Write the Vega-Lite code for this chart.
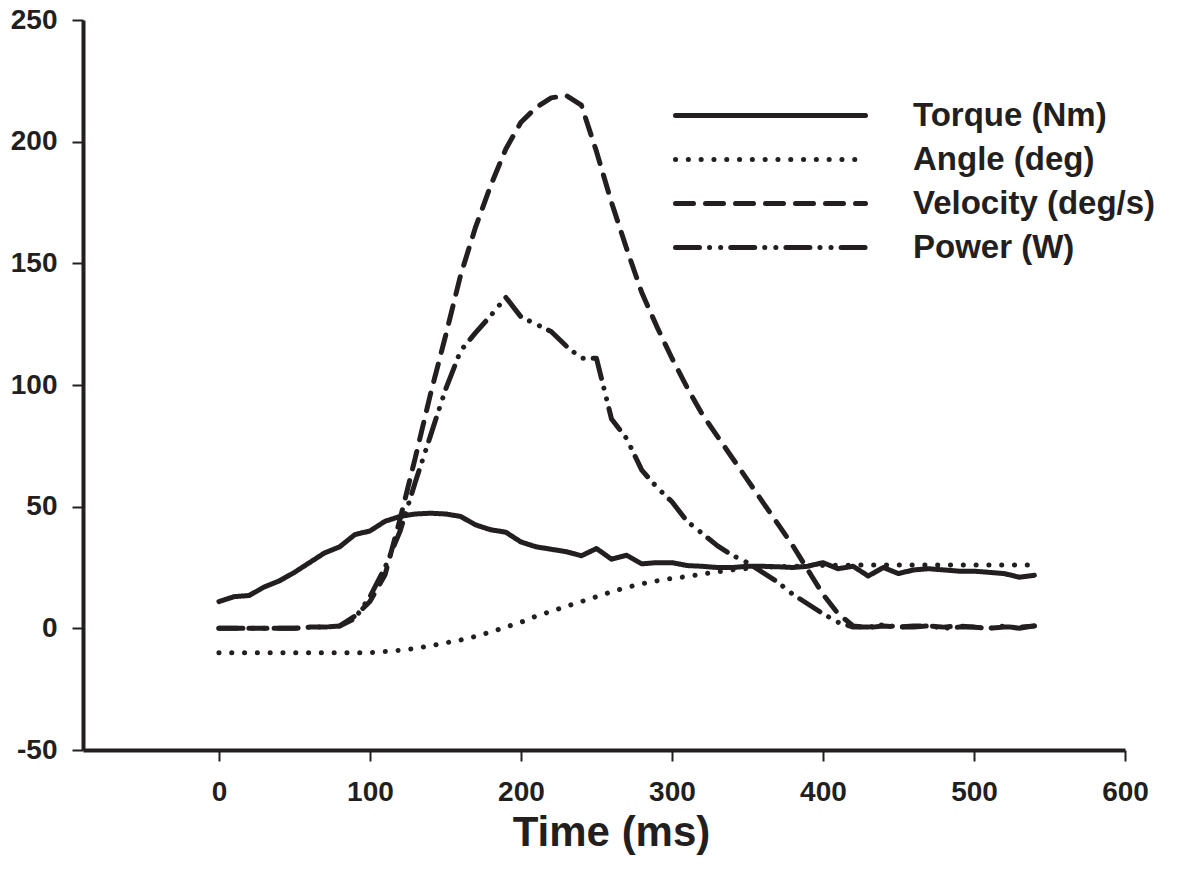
{
  "$schema": "https://vega.github.io/schema/vega-lite/v6.json",
  "width": 1042,
  "height": 730,
  "autosize": {"type": "none"},
  "padding": {"left": 83, "top": 20, "right": 56, "bottom": 134},
  "background": "white",
  "config": {"view": {"stroke": null}, "font": "Liberation Sans"},
  "data": {
    "values": [
      {"t": 0, "Torque (Nm)": 11, "Angle (deg)": -10, "Velocity (deg/s)": 0, "Power (W)": 0},
      {"t": 10, "Torque (Nm)": 13, "Angle (deg)": -10, "Velocity (deg/s)": 0, "Power (W)": 0},
      {"t": 20, "Torque (Nm)": 13.5, "Angle (deg)": -10, "Velocity (deg/s)": 0, "Power (W)": 0},
      {"t": 30, "Torque (Nm)": 17, "Angle (deg)": -10, "Velocity (deg/s)": 0, "Power (W)": 0},
      {"t": 40, "Torque (Nm)": 19.5, "Angle (deg)": -10, "Velocity (deg/s)": 0, "Power (W)": 0},
      {"t": 50, "Torque (Nm)": 23, "Angle (deg)": -10, "Velocity (deg/s)": 0, "Power (W)": 0},
      {"t": 60, "Torque (Nm)": 27, "Angle (deg)": -10, "Velocity (deg/s)": 0.5, "Power (W)": 0.5},
      {"t": 70, "Torque (Nm)": 31, "Angle (deg)": -10, "Velocity (deg/s)": 0.5, "Power (W)": 0.5},
      {"t": 80, "Torque (Nm)": 33.5, "Angle (deg)": -10, "Velocity (deg/s)": 1, "Power (W)": 1},
      {"t": 90, "Torque (Nm)": 38.5, "Angle (deg)": -10, "Velocity (deg/s)": 5, "Power (W)": 4},
      {"t": 100, "Torque (Nm)": 40, "Angle (deg)": -10, "Velocity (deg/s)": 11, "Power (W)": 13},
      {"t": 110, "Torque (Nm)": 44, "Angle (deg)": -9.5, "Velocity (deg/s)": 22, "Power (W)": 25},
      {"t": 120, "Torque (Nm)": 46, "Angle (deg)": -9, "Velocity (deg/s)": 45, "Power (W)": 40},
      {"t": 130, "Torque (Nm)": 47, "Angle (deg)": -8.3, "Velocity (deg/s)": 70, "Power (W)": 60},
      {"t": 140, "Torque (Nm)": 47.3, "Angle (deg)": -7.2, "Velocity (deg/s)": 96, "Power (W)": 79},
      {"t": 150, "Torque (Nm)": 47, "Angle (deg)": -6, "Velocity (deg/s)": 120, "Power (W)": 98},
      {"t": 160, "Torque (Nm)": 46, "Angle (deg)": -4.8, "Velocity (deg/s)": 145, "Power (W)": 114},
      {"t": 170, "Torque (Nm)": 42.5, "Angle (deg)": -3.3, "Velocity (deg/s)": 165, "Power (W)": 121.5},
      {"t": 180, "Torque (Nm)": 40.5, "Angle (deg)": -1.5, "Velocity (deg/s)": 182, "Power (W)": 128.5},
      {"t": 190, "Torque (Nm)": 39.5, "Angle (deg)": 0.5, "Velocity (deg/s)": 197, "Power (W)": 136},
      {"t": 200, "Torque (Nm)": 35.5, "Angle (deg)": 2.5, "Velocity (deg/s)": 208, "Power (W)": 128},
      {"t": 210, "Torque (Nm)": 33.5, "Angle (deg)": 5, "Velocity (deg/s)": 214, "Power (W)": 125},
      {"t": 220, "Torque (Nm)": 32.5, "Angle (deg)": 7, "Velocity (deg/s)": 218, "Power (W)": 122},
      {"t": 230, "Torque (Nm)": 31.5, "Angle (deg)": 9, "Velocity (deg/s)": 219, "Power (W)": 116},
      {"t": 240, "Torque (Nm)": 29.8, "Angle (deg)": 11, "Velocity (deg/s)": 215, "Power (W)": 111},
      {"t": 250, "Torque (Nm)": 32.8, "Angle (deg)": 13, "Velocity (deg/s)": 196, "Power (W)": 111},
      {"t": 260, "Torque (Nm)": 28.4, "Angle (deg)": 15, "Velocity (deg/s)": 175, "Power (W)": 86},
      {"t": 270, "Torque (Nm)": 30, "Angle (deg)": 16.8, "Velocity (deg/s)": 156, "Power (W)": 78},
      {"t": 280, "Torque (Nm)": 26.5, "Angle (deg)": 18.3, "Velocity (deg/s)": 138, "Power (W)": 65},
      {"t": 290, "Torque (Nm)": 27, "Angle (deg)": 19.5, "Velocity (deg/s)": 124, "Power (W)": 58},
      {"t": 300, "Torque (Nm)": 27, "Angle (deg)": 20.5, "Velocity (deg/s)": 111, "Power (W)": 52},
      {"t": 310, "Torque (Nm)": 25.8, "Angle (deg)": 21.3, "Velocity (deg/s)": 99, "Power (W)": 44},
      {"t": 320, "Torque (Nm)": 25.5, "Angle (deg)": 22.3, "Velocity (deg/s)": 88, "Power (W)": 39},
      {"t": 330, "Torque (Nm)": 25, "Angle (deg)": 23.2, "Velocity (deg/s)": 79, "Power (W)": 34},
      {"t": 340, "Torque (Nm)": 25, "Angle (deg)": 24, "Velocity (deg/s)": 70, "Power (W)": 30},
      {"t": 350, "Torque (Nm)": 25.5, "Angle (deg)": 24.6, "Velocity (deg/s)": 61, "Power (W)": 27},
      {"t": 360, "Torque (Nm)": 25.5, "Angle (deg)": 25, "Velocity (deg/s)": 52, "Power (W)": 23},
      {"t": 370, "Torque (Nm)": 25.3, "Angle (deg)": 25.3, "Velocity (deg/s)": 43, "Power (W)": 19},
      {"t": 380, "Torque (Nm)": 25, "Angle (deg)": 25.5, "Velocity (deg/s)": 34, "Power (W)": 14},
      {"t": 390, "Torque (Nm)": 25.5, "Angle (deg)": 25.7, "Velocity (deg/s)": 24, "Power (W)": 10},
      {"t": 400, "Torque (Nm)": 27, "Angle (deg)": 25.8, "Velocity (deg/s)": 14, "Power (W)": 6},
      {"t": 410, "Torque (Nm)": 24.5, "Angle (deg)": 25.9, "Velocity (deg/s)": 6, "Power (W)": 2.5},
      {"t": 420, "Torque (Nm)": 25.5, "Angle (deg)": 26, "Velocity (deg/s)": 1, "Power (W)": 0.5},
      {"t": 430, "Torque (Nm)": 21.5, "Angle (deg)": 26, "Velocity (deg/s)": 0.3, "Power (W)": 0.5},
      {"t": 440, "Torque (Nm)": 25, "Angle (deg)": 26, "Velocity (deg/s)": 1, "Power (W)": 1.5},
      {"t": 450, "Torque (Nm)": 22.5, "Angle (deg)": 26, "Velocity (deg/s)": 0.5, "Power (W)": 0.5},
      {"t": 460, "Torque (Nm)": 24, "Angle (deg)": 26, "Velocity (deg/s)": 1, "Power (W)": 0.5},
      {"t": 470, "Torque (Nm)": 24.5, "Angle (deg)": 26, "Velocity (deg/s)": 1, "Power (W)": 1},
      {"t": 480, "Torque (Nm)": 24, "Angle (deg)": 26, "Velocity (deg/s)": 0.5, "Power (W)": 0},
      {"t": 490, "Torque (Nm)": 23.5, "Angle (deg)": 26, "Velocity (deg/s)": 1, "Power (W)": 0.5},
      {"t": 500, "Torque (Nm)": 23.5, "Angle (deg)": 26, "Velocity (deg/s)": 0.5, "Power (W)": 0.5},
      {"t": 510, "Torque (Nm)": 23, "Angle (deg)": 26, "Velocity (deg/s)": 0, "Power (W)": 0},
      {"t": 520, "Torque (Nm)": 22.5, "Angle (deg)": 26, "Velocity (deg/s)": 0.5, "Power (W)": 1},
      {"t": 530, "Torque (Nm)": 21, "Angle (deg)": 26, "Velocity (deg/s)": 0.5, "Power (W)": 0},
      {"t": 540, "Torque (Nm)": 21.8, "Angle (deg)": 26, "Velocity (deg/s)": 1, "Power (W)": 1}
    ]
  },
  "transform": [
    {"fold": ["Torque (Nm)", "Angle (deg)", "Velocity (deg/s)", "Power (W)"], "as": ["series", "value"]}
  ],
  "mark": {"type": "line", "strokeWidth": 5, "strokeCap": "round", "strokeJoin": "round", "color": "#231f20", "clip": false},
  "encoding": {
    "x": {
      "field": "t", "type": "quantitative",
      "scale": {"domain": [-90, 600], "nice": false, "zero": false},
      "axis": {
        "values": [0, 100, 200, 300, 400, 500, 600], "labelExpr": "'' + datum.value",
        "title": "Time (ms)", "titleFontSize": 42, "titleFontWeight": "bold", "titleColor": "#231f20",
        "titleX": 528, "titleY": 62, "titleBaseline": "top",
        "labelFontSize": 28, "labelFontWeight": "bold", "labelColor": "#231f20", "labelPadding": 17,
        "labelFlush": false, "labelOverlap": false,
        "tickSize": 11, "tickWidth": 2, "tickColor": "#231f20",
        "domainWidth": 4, "domainColor": "#231f20", "grid": false
      }
    },
    "y": {
      "field": "value", "type": "quantitative",
      "scale": {"domain": [-50, 250], "nice": false, "zero": false},
      "axis": {
        "values": [-50, 0, 50, 100, 150, 200, 250], "labelExpr": "'' + datum.value", "title": null,
        "labelFontSize": 28, "labelFontWeight": "bold", "labelColor": "#231f20", "labelPadding": 15,
        "labelFlush": false, "labelOverlap": false,
        "tickSize": 11, "tickWidth": 2, "tickColor": "#231f20",
        "domainWidth": 4, "domainColor": "#231f20", "grid": false
      }
    },
    "strokeDash": {
      "field": "series", "type": "nominal",
      "scale": {
        "domain": ["Torque (Nm)", "Angle (deg)", "Velocity (deg/s)", "Power (W)"],
        "range": [[1, 0], [0.1, 12.7], [18, 12], [24, 10, 0.1, 11, 0.1, 10]]
      },
      "legend": {
        "title": null, "orient": "none", "legendX": 671, "legendY": 79,
        "symbolType": "M-10,0L10,0", "symbolSize": 361, "symbolStrokeWidth": 5, "symbolStrokeColor": "#231f20",
        "labelFontSize": 33, "labelFontWeight": "bold", "labelColor": "#231f20", "labelOffset": 126,
        "labelLimit": 0, "rowPadding": 10,
        "encode": {"symbols": {"update": {"strokeCap": {"value": "round"}}}}
      }
    }
  }
}
